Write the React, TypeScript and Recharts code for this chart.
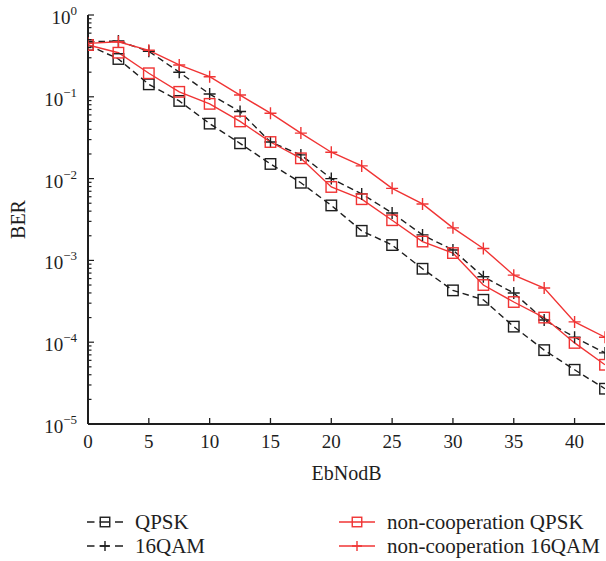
import React from 'react';
import { LineChart, Line, XAxis, YAxis, Legend } from 'recharts';

const FONT = '"Liberation Serif", "Times New Roman", serif';
const BLACK = '#1e1e1e';
const RED = '#f03434';

// EbNo (dB)
const ebNo = [0, 2.5, 5, 7.5, 10, 12.5, 15, 17.5, 20, 22.5, 25, 27.5, 30, 32.5, 35, 37.5, 40, 42.5];
// BER values per series
const qpsk = [0.43, 0.29, 0.142, 0.089, 0.047, 0.027, 0.0151, 0.0089, 0.0047, 0.0023, 0.00154, 7.9e-4, 4.3e-4, 3.3e-4, 1.55e-4, 8.0e-5, 4.6e-5, 2.7e-5];
const qam16 = [0.47, 0.48, 0.36, 0.2, 0.108, 0.066, 0.028, 0.0195, 0.01, 0.0065, 0.0038, 0.00205, 0.00134, 6.3e-4, 4.0e-4, 1.87e-4, 1.15e-4, 7.4e-5];
const ncQpsk = [0.43, 0.346, 0.194, 0.115, 0.082, 0.05, 0.028, 0.0177, 0.0079, 0.0056, 0.0031, 0.0017, 0.00123, 5.0e-4, 3.1e-4, 2.0e-4, 9.8e-5, 5.3e-5];
const ncQam16 = [0.45, 0.47, 0.37, 0.245, 0.176, 0.105, 0.063, 0.036, 0.021, 0.0143, 0.0076, 0.0049, 0.0025, 0.0014, 6.6e-4, 4.6e-4, 1.77e-4, 1.15e-4];

const seriesKeys = ['qpsk', 'qam16', 'ncQpsk', 'ncQam16'];
const seriesNames = ['QPSK', '16QAM', 'non-cooperation QPSK', 'non-cooperation 16QAM'];

// Axis ticks
const xTicks = [0, 5, 10, 15, 20, 25, 30, 35, 40];
const yMajorTicks = [1e-5, 1e-4, 1e-3, 1e-2, 1e-1, 1];
const yMinorMultipliers = [2, 3, 4, 5, 6, 7, 8, 9];
const yTicks: number[] = [];
yMajorTicks.forEach((m, i) => {
  yTicks.push(m);
  if (i < yMajorTicks.length - 1) yMinorMultipliers.forEach((k) => yTicks.push(k * m));
});

const data = ebNo.map((x, i) => ({ x, qpsk: qpsk[i], qam16: qam16[i], ncQpsk: ncQpsk[i], ncQam16: ncQam16[i] }));

type Marker = 'square' | 'plus';
const styles: Record<string, { color: string; dash?: string; marker: Marker; col: number; row: number }> = {
  qpsk: { color: BLACK, dash: '6.5 4', marker: 'square', col: 0, row: 0 },
  qam16: { color: BLACK, dash: '6.5 4', marker: 'plus', col: 0, row: 1 },
  ncQpsk: { color: RED, marker: 'square', col: 1, row: 0 },
  ncQam16: { color: RED, marker: 'plus', col: 1, row: 1 },
};

function drawMarker(kind: Marker, cx: number, cy: number, color: string, size: number, key?: string) {
  if (kind === 'square') {
    return <rect key={key} x={cx - size / 2} y={cy - size / 2} width={size} height={size} fill="none" stroke={color} strokeWidth={1.4} />;
  }
  return (
    <path key={key} d={`M${cx - size / 2},${cy}H${cx + size / 2}M${cx},${cy - size / 2}V${cy + size / 2}`} stroke={color} strokeWidth={1.4} fill="none" />
  );
}

const makeDot = (key: string) => (props: any) => {
  const { cx, cy, index } = props;
  if (cx == null || cy == null) return <g key={`${key}-${index}`} />;
  const s = styles[key];
  return drawMarker(s.marker, cx, cy, s.color, s.marker === 'square' ? 10.5 : 12, `${key}-${index}`);
};

const isMajor = (v: number) => Math.abs(Math.log10(v) - Math.round(Math.log10(v))) < 1e-9;

const BottomTick = (p: any) => (
  <g>
    {p.payload.value !== 0 && <line x1={p.x} x2={p.x} y1={p.y} y2={p.y - 6} stroke={BLACK} strokeWidth={1.3} />}
    <text x={p.x} y={p.y + 24} textAnchor="middle" fontSize={19} fontFamily={FONT} fill={BLACK}>
      {p.payload.value}
    </text>
  </g>
);

const TopTick = (p: any) =>
  p.payload.value !== 0 ? <line x1={p.x} x2={p.x} y1={p.y} y2={p.y + 6} stroke={BLACK} strokeWidth={1.3} /> : <g />;

const LeftTick = (p: any) => {
  const v = p.payload.value;
  const major = isMajor(v);
  const e = Math.round(Math.log10(v));
  return (
    <g>
      <line x1={p.x} x2={p.x + (major ? 6 : 3.5)} y1={p.y} y2={p.y} stroke={BLACK} strokeWidth={1.2} />
      {major && (
        <text x={p.x - 11} y={p.y + 9} textAnchor="end" fontSize={19} fontFamily={FONT} fill={BLACK}>
          10
          <tspan dy={-9} fontSize={13}>
            {e === 0 ? '0' : '\u2212' + -e}
          </tspan>
        </text>
      )}
    </g>
  );
};

const RightTick = (p: any) => {
  const major = isMajor(p.payload.value);
  return <line x1={p.x} x2={p.x - (major ? 6 : 3.5)} y1={p.y} y2={p.y} stroke={BLACK} strokeWidth={1.2} />;
};

const BerLabel = (p: any) => {
  const vb = p.viewBox || { x: 8, y: 15, width: 80, height: 409 };
  const cx = vb.x + 17;
  const cy = vb.y + vb.height / 2;
  return (
    <text x={cx} y={cy} transform={`rotate(-90, ${cx}, ${cy})`} textAnchor="middle" fontSize={20} fontFamily={FONT} fill={BLACK}>
      BER
    </text>
  );
};

const LegendContent = (props: any) => {
  const payload = props.payload || [];
  const colX = [87, 339];
  const rowY = [22, 46];
  return (
    <svg width={606} height={61} style={{ display: 'block', overflow: 'visible' }}>
      {payload.map((p: any) => {
        const key = p.dataKey as string;
        const s = styles[key];
        if (!s) return null;
        const x0 = colX[s.col];
        const y = rowY[s.row];
        const idx = seriesKeys.indexOf(key);
        return (
          <g key={key}>
            <line
              x1={x0}
              x2={x0 + 36}
              y1={y}
              y2={y}
              stroke={s.color}
              strokeWidth={1.4}
              strokeDasharray={s.dash ? '7.5 5 10 5.5 8' : undefined}
            />
            {drawMarker(s.marker, x0 + 18, y, s.color, s.marker === 'square' ? 9.5 : 10)}
            <text x={x0 + 48} y={y + 6.5} fontSize={21} fontFamily={FONT} fill={BLACK}>
              {seriesNames[idx]}
            </text>
          </g>
        );
      })}
    </svg>
  );
};

export default function App() {
  return (
    <div style={{ position: 'absolute', left: 0, top: 0, background: '#fff' }}>
      <LineChart width={606} height={561} data={data} margin={{ top: 15, right: 1, bottom: 60, left: 8 }}>
        <XAxis
          dataKey="x"
          type="number"
          domain={[0, 42.5]}
          ticks={xTicks}
          interval={0}
          allowDataOverflow
          tickSize={0}
          tickMargin={0}
          tick={BottomTick}
          axisLine={{ stroke: BLACK, strokeWidth: 2 }}
          height={77}
          label={{ value: 'EbNodB', position: 'insideBottom', offset: 21, fontSize: 20, fontFamily: FONT, fill: BLACK }}
        />
        <XAxis
          xAxisId="top"
          orientation="top"
          dataKey="x"
          type="number"
          domain={[0, 42.5]}
          ticks={xTicks}
          interval={0}
          allowDataOverflow
          tickSize={0}
          tickMargin={0}
          tick={TopTick}
          axisLine={{ stroke: BLACK, strokeWidth: 2 }}
          height={0}
        />
        <YAxis
          scale="log"
          type="number"
          domain={[1e-5, 1]}
          ticks={yTicks}
          interval={0}
          allowDataOverflow
          tickSize={0}
          tickMargin={0}
          tick={LeftTick}
          axisLine={{ stroke: BLACK, strokeWidth: 2 }}
          width={80}
          label={<BerLabel />}
        />
        <YAxis
          yAxisId="right"
          orientation="right"
          scale="log"
          type="number"
          domain={[1e-5, 1]}
          ticks={yTicks}
          interval={0}
          allowDataOverflow
          tickSize={0}
          tickMargin={0}
          tick={RightTick}
          axisLine={{ stroke: BLACK, strokeWidth: 2 }}
          width={0}
        />
        <Legend content={<LegendContent />} wrapperStyle={{ left: 0, top: 500, width: 606, height: 0, overflow: 'visible' }} />
        {seriesKeys.map((k, i) => (
          <Line
            key={k}
            dataKey={k}
            name={seriesNames[i]}
            type="linear"
            stroke={styles[k].color}
            strokeWidth={1.4}
            strokeDasharray={styles[k].dash}
            dot={makeDot(k)}
            activeDot={false}
            isAnimationActive={false}
          />
        ))}
      </LineChart>
    </div>
  );
}
